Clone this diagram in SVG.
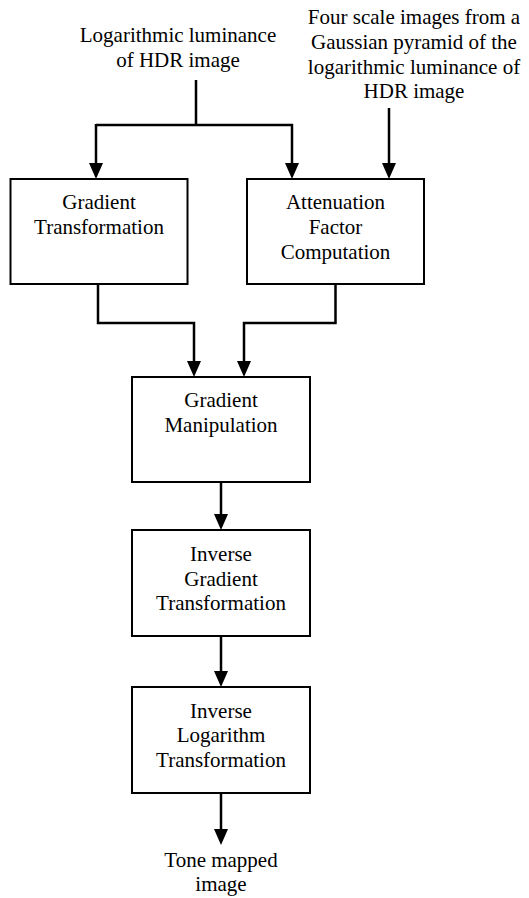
<svg xmlns="http://www.w3.org/2000/svg" width="529" height="898" viewBox="0 0 529 898">
<style>
text{font-family:'Liberation Serif','Times New Roman',Tinos,'DejaVu Serif',serif;font-size:21px;fill:#000;text-anchor:middle}
.box{fill:#fff;stroke:#000;stroke-width:2}
.ln{fill:none;stroke:#000;stroke-width:2.5}
.ah{fill:#000;stroke:none}
</style>
<defs>
<polygon id="arr" class="ah" points="-7,-16 7,-16 0,0"/>
</defs>
<g id="label-in1">
<text x="178" y="42">Logarithmic luminance</text>
<text x="178" y="67">of HDR image</text>
</g>
<g id="label-in2">
<text x="414" y="24">Four scale images from a</text>
<text x="414" y="49">Gaussian pyramid of the</text>
<text x="414" y="74">logarithmic luminance of</text>
<text x="414" y="98">HDR image</text>
</g>
<g id="connectors">
<path class="ln" d="M196,80 V125 M96,125 H293 M96,124 V165 M292,124 V165"/>
<use href="#arr" x="96" y="179"/>
<use href="#arr" x="292" y="179"/>
<path class="ln" d="M389,108 V165"/>
<use href="#arr" x="389" y="179"/>
<path class="ln" d="M98,284 V323 H194 V363 M335.5,284 V323 H244 V363"/>
<use href="#arr" x="194" y="377"/>
<use href="#arr" x="244" y="377"/>
<path class="ln" d="M221,482 V516"/>
<use href="#arr" x="221" y="530"/>
<path class="ln" d="M221,636 V673"/>
<use href="#arr" x="221" y="687"/>
<path class="ln" d="M221,793 V831"/>
<use href="#arr" x="221" y="845"/>
</g>
<g id="gradient-transformation">
<rect class="box" x="10.5" y="179" width="177" height="105"/>
<text x="99" y="209">Gradient</text>
<text x="99" y="234">Transformation</text>
</g>
<g id="attenuation">
<rect class="box" x="247" y="179" width="177" height="105"/>
<text x="335.5" y="209">Attenuation</text>
<text x="335.5" y="234">Factor</text>
<text x="335.5" y="259">Computation</text>
</g>
<g id="gradient-manipulation">
<rect class="box" x="132" y="377" width="178" height="105"/>
<text x="221" y="407">Gradient</text>
<text x="221" y="432">Manipulation</text>
</g>
<g id="inverse-gradient">
<rect class="box" x="132" y="530" width="178" height="106"/>
<text x="221" y="561">Inverse</text>
<text x="221" y="586">Gradient</text>
<text x="221" y="610">Transformation</text>
</g>
<g id="inverse-log">
<rect class="box" x="132" y="687" width="178" height="106"/>
<text x="221" y="718">Inverse</text>
<text x="221" y="742">Logarithm</text>
<text x="221" y="767">Transformation</text>
</g>
<g id="label-out">
<text x="221" y="867">Tone mapped</text>
<text x="221" y="891">image</text>
</g>
</svg>
